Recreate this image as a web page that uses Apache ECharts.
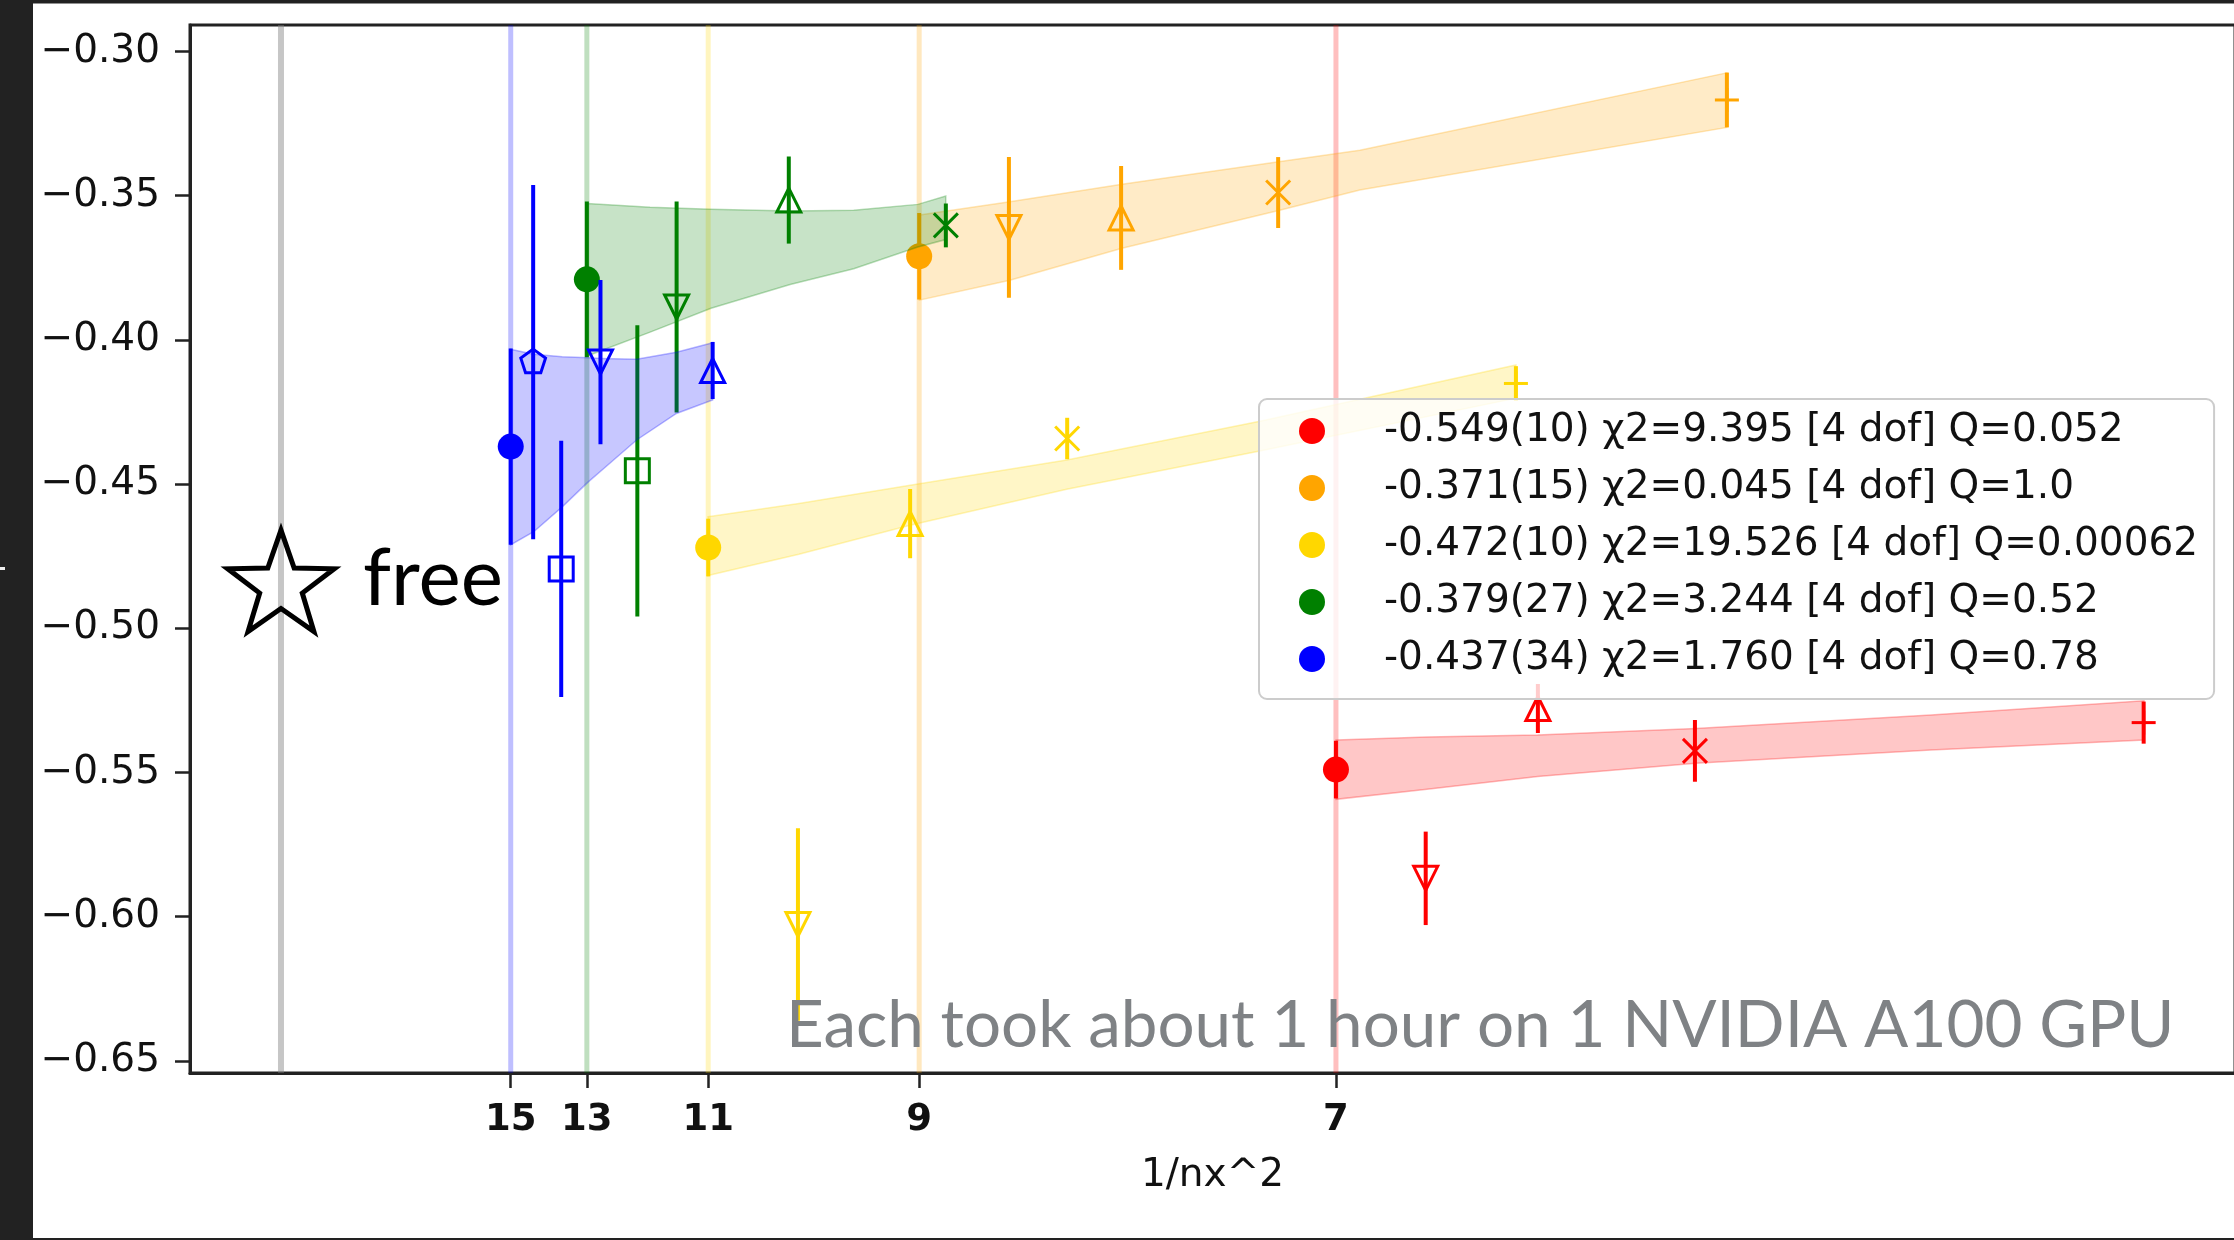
<!DOCTYPE html>
<html>
<head>
<meta charset="utf-8">
<script src="https://cdn.jsdelivr.net/npm/echarts@6/dist/echarts.min.js"></script>
<style>
  html, body { margin: 0; padding: 0; background: #fff; }
  #chart { width: 2234px; height: 1240px; }
</style>
</head>
<body>
<div id="chart"></div>
<script>
// Spatial lattice extents, one fit per nx
const nxList = [7, 9, 11, 13, 15];
const seriesColors = ['#ff0000', '#ffa500', '#ffd700', '#008000', '#0000ff'];
const seriesRgb = [[255, 0, 0], [255, 165, 0], [255, 215, 0], [0, 128, 0], [0, 0, 255]];
const fitLabels = [
  '-0.549(10) \u03c72=9.395 [4 dof] Q=0.052',
  '-0.371(15) \u03c72=0.045 [4 dof] Q=1.0',
  '-0.472(10) \u03c72=19.526 [4 dof] Q=0.00062',
  '-0.379(27) \u03c72=3.244 [4 dof] Q=0.52',
  '-0.437(34) \u03c72=1.760 [4 dof] Q=0.78'
];

// Extrapolated (nt -> infinity) values and errors
const fitValues = [-0.549, -0.371, -0.472, -0.379, -0.437];
const fitErrors = [0.010, 0.015, 0.010, 0.027, 0.034];

// Finite-nt measurements, nx = 7
const ntRed = [24, 16, 12, 8];
const valRed = [-0.5867, -0.5278, -0.5425, -0.5327];
const errRed = [0.0162, 0.0085, 0.0107, 0.0073];
// nx = 9
const ntOrange = [24, 16, 12, 8];
const valOrange = [-0.3610, -0.3577, -0.3489, -0.3168];
const errOrange = [0.0244, 0.0180, 0.0123, 0.0095];
// nx = 11
const ntYellow = [24, 16, 12, 8];
const valYellow = [-0.6027, -0.4637, -0.4342, -0.4151];
const errYellow = [0.0334, 0.0120, 0.0072, 0.0060];
// nx = 13
const ntGreen = [32, 24, 16, 12];
const valGreen = [-0.4454, -0.3886, -0.3515, -0.3603];
const errGreen = [0.0505, 0.0366, 0.0151, 0.0076];
// nx = 15
const ntBlue = [48, 32, 24, 16];
const valBlue = [-0.4077, -0.4794, -0.4077, -0.4106];
const errBlue = [0.0614, 0.0444, 0.0285, 0.0099];

// Fit error bands: sample positions with upper / lower edges
const bandXRed = [0.02041, 0.02217, 0.02431, 0.02737, 0.03192, 0.03604];
const bandHiRed = [-0.5387, -0.5377, -0.5370, -0.5347, -0.5301, -0.5251];
const bandLoRed = [-0.5593, -0.5558, -0.5514, -0.5468, -0.5422, -0.5387];

const bandXOrange = [0.01235, 0.01410, 0.01627, 0.01930, 0.02087, 0.02797];
const bandHiOrange = [-0.3567, -0.3521, -0.3460, -0.3382, -0.3342, -0.3074];
const bandLoOrange = [-0.3862, -0.3793, -0.3682, -0.3551, -0.3480, -0.3263];

const bandXYellow = [0.00826, 0.01002, 0.01217, 0.01520, 0.01896, 0.02389];
const bandHiYellow = [-0.4613, -0.4567, -0.4504, -0.4416, -0.4281, -0.4087];
const bandLoYellow = [-0.4817, -0.4743, -0.4643, -0.4518, -0.4384, -0.4202];

const bandXGreen = [0.00592, 0.00714, 0.00832, 0.00985, 0.01108, 0.01232, 0.01286];
const bandHiGreen = [-0.3527, -0.3540, -0.3547, -0.3553, -0.3550, -0.3530, -0.3501];
const bandLoGreen = [-0.4056, -0.3973, -0.3890, -0.3808, -0.3753, -0.3678, -0.3652];

const bandXBlue = [0.00444, 0.00489, 0.00544, 0.00594, 0.00620, 0.00688, 0.00765, 0.00835];
const bandHiBlue = [-0.4032, -0.4050, -0.4058, -0.4062, -0.4064, -0.4067, -0.4043, -0.4010];
const bandLoBlue = [-0.4711, -0.4665, -0.4579, -0.4493, -0.4453, -0.4347, -0.4255, -0.4208];

// Free-field reference marker at 1/nx^2 = 0
const freeValue = -0.484;

// Axis ticks
const xTickNx = [15, 13, 11, 9, 7];
const yTicks = [-0.65, -0.60, -0.55, -0.50, -0.45, -0.40, -0.35, -0.30];
const xRange = [-0.00176, 0.0378];
const yRange = [-0.6542, -0.2908];

const FONT = 'DejaVu Sans';

function rgba(c, a) { return 'rgba(' + c[0] + ',' + c[1] + ',' + c[2] + ',' + a + ')'; }

// marker glyph for each temporal extent (0 = extrapolated value)
function markerFor(nt, cx, cy, color) {
  const s = 12;
  const stroke = { stroke: color, lineWidth: 3, fill: 'none' };
  if (nt === 0) {
    return { type: 'circle', shape: { cx: cx, cy: cy, r: 13 }, style: { fill: color } };
  }
  if (nt === 48) {
    const pts = [];
    for (let i = 0; i < 5; i++) {
      const a = -Math.PI / 2 + i * 2 * Math.PI / 5;
      pts.push([cx + 13 * Math.cos(a), cy + 13 * Math.sin(a)]);
    }
    return { type: 'polygon', shape: { points: pts }, style: stroke };
  }
  if (nt === 32) {
    return { type: 'rect', shape: { x: cx - s, y: cy - s, width: 2 * s, height: 2 * s }, style: stroke };
  }
  if (nt === 24) {
    return { type: 'polygon', shape: { points: [[cx, cy + s], [cx - s, cy - s], [cx + s, cy - s]] }, style: stroke };
  }
  if (nt === 16) {
    return { type: 'polygon', shape: { points: [[cx, cy - s], [cx - s, cy + s], [cx + s, cy + s]] }, style: stroke };
  }
  if (nt === 12) {
    return { type: 'group', children: [
      { type: 'line', shape: { x1: cx - s, y1: cy - s, x2: cx + s, y2: cy + s }, style: stroke },
      { type: 'line', shape: { x1: cx - s, y1: cy + s, x2: cx + s, y2: cy - s }, style: stroke }
    ] };
  }
  return { type: 'group', children: [
    { type: 'line', shape: { x1: cx - s, y1: cy, x2: cx + s, y2: cy }, style: stroke },
    { type: 'line', shape: { x1: cx, y1: cy - s, x2: cx, y2: cy + s }, style: stroke }
  ] };
}

function bandSeries(k, xs, hi, lo) {
  const c = seriesRgb[k];
  return {
    type: 'custom',
    name: 'band nx=' + nxList[k],
    silent: true,
    data: [[xs[0], hi[0]]],
    encode: { x: 0, y: 1 },
    renderItem: function (params, api) {
      const pts = [];
      for (let i = 0; i < xs.length; i++) pts.push(api.coord([xs[i], hi[i]]));
      for (let i = xs.length - 1; i >= 0; i--) pts.push(api.coord([xs[i], lo[i]]));
      return {
        type: 'polygon',
        shape: { points: pts },
        style: { fill: rgba(c, 0.22), stroke: rgba(c, 0.28), lineWidth: 1.5 }
      };
    }
  };
}

function pointSeries(k, nts, vals, errs) {
  const nx = nxList[k];
  const color = seriesColors[k];
  const data = [[1 / (nx * nx), fitValues[k], fitErrors[k], 0]];
  for (let i = 0; i < nts.length; i++) {
    data.push([1 / (nx * nx) + 1 / (nts[i] * nts[i]), vals[i], errs[i], nts[i]]);
  }
  return {
    type: 'custom',
    name: fitLabels[k],
    silent: true,
    itemStyle: { color: color },
    data: data,
    encode: { x: 0, y: 1 },
    renderItem: function (params, api) {
      const x = api.value(0), y = api.value(1), e = api.value(2), nt = api.value(3);
      const p = api.coord([x, y]);
      const top = api.coord([x, y + e]);
      const bot = api.coord([x, y - e]);
      return {
        type: 'group',
        children: [
          { type: 'line', shape: { x1: p[0], y1: top[1], x2: p[0], y2: bot[1] }, style: { stroke: color, lineWidth: 4 } },
          markerFor(nt, p[0], p[1], color)
        ]
      };
    }
  };
}

// vertical guide lines at 1/nx^2 (and at 0 for the free case)
const vlineX = [0].concat(nxList.map(function (n) { return 1 / (n * n); }));
const vlineColors = ['rgba(128,128,128,0.45)'].concat(seriesRgb.map(function (c) { return rgba(c, 0.25); }));

const vlineSeries = {
  type: 'custom',
  name: 'guides',
  silent: true,
  data: vlineX.map(function (x, i) { return [x, yRange[0], i]; }),
  encode: { x: 0, y: 1 },
  renderItem: function (params, api) {
    const x = api.value(0);
    const i = api.value(2);
    const a = api.coord([x, yRange[1]]);
    const b = api.coord([x, yRange[0]]);
    return {
      type: 'line',
      shape: { x1: a[0], y1: a[1], x2: b[0], y2: b[1] },
      style: { stroke: vlineColors[i], lineWidth: i === 0 ? 6 : 5 }
    };
  }
};

const freeSeries = {
  type: 'custom',
  name: 'free',
  silent: true,
  data: [[0, freeValue]],
  encode: { x: 0, y: 1 },
  renderItem: function (params, api) {
    const p = api.coord([api.value(0), api.value(1)]);
    const R = 56, r = R * 0.4;
    const pts = [];
    for (let i = 0; i < 10; i++) {
      const a = -Math.PI / 2 + i * Math.PI / 5;
      const rad = i % 2 === 0 ? R : r;
      pts.push([p[0] + rad * Math.cos(a), p[1] + 4 + rad * Math.sin(a)]);
    }
    return {
      type: 'group',
      children: [
        { type: 'polygon', shape: { points: pts }, style: { fill: 'none', stroke: '#000', lineWidth: 5, lineJoin: 'miter' } },
        { type: 'text', x: p[0] + 82, y: p[1] - 3,
          style: { text: 'free', fontFamily: 'Lato', fontSize: 80, fill: '#000', align: 'left', verticalAlign: 'middle' } }
      ]
    };
  }
};

const series = [vlineSeries,
  bandSeries(0, bandXRed, bandHiRed, bandLoRed), pointSeries(0, ntRed, valRed, errRed),
  bandSeries(1, bandXOrange, bandHiOrange, bandLoOrange), pointSeries(1, ntOrange, valOrange, errOrange),
  bandSeries(2, bandXYellow, bandHiYellow, bandLoYellow), pointSeries(2, ntYellow, valYellow, errYellow),
  bandSeries(3, bandXGreen, bandHiGreen, bandLoGreen), pointSeries(3, ntGreen, valGreen, errGreen),
  bandSeries(4, bandXBlue, bandHiBlue, bandLoBlue), pointSeries(4, ntBlue, valBlue, errBlue),
  freeSeries
];

const chart = echarts.init(document.getElementById('chart'), null, { renderer: 'canvas' });
chart.setOption({
  animation: false,
  backgroundColor: '#ffffff',
  grid: {
    left: 190, right: -1, top: 25, bottom: 167,
    show: true, borderColor: '#222', borderWidth: 3, backgroundColor: 'transparent',
    containLabel: false, outerBoundsMode: 'none'
  },
  xAxis: {
    type: 'value', min: xRange[0], max: xRange[1],
    name: '1/nx^2', nameLocation: 'middle', nameGap: 83,
    nameTextStyle: { fontFamily: FONT, fontSize: 39, color: '#111' },
    axisLine: { show: true, onZero: false, lineStyle: { color: '#222', width: 3 } },
    axisTick: { show: true, length: 15, lineStyle: { color: '#222', width: 2.5 },
      customValues: xTickNx.map(function (n) { return 1 / (n * n); }) },
    axisLabel: {
      customValues: xTickNx.map(function (n) { return 1 / (n * n); }),
      formatter: function (v) { return String(Math.round(Math.sqrt(1 / v))); },
      fontFamily: FONT, fontSize: 37, fontWeight: 'bold', color: '#111', margin: 29
    },
    splitLine: { show: false }
  },
  yAxis: {
    type: 'value', min: yRange[0], max: yRange[1],
    axisLine: { show: true, onZero: false, lineStyle: { color: '#222', width: 3 } },
    axisTick: { show: true, length: 15, lineStyle: { color: '#222', width: 2.5 }, customValues: yTicks },
    axisLabel: {
      customValues: yTicks,
      formatter: function (v) { return v.toFixed(2).replace('-', '\u2212'); },
      fontFamily: FONT, fontSize: 39, color: '#111', margin: 30
    },
    splitLine: { show: false }
  },
  legend: {
    orient: 'vertical',
    left: 1259, top: 399,
    data: fitLabels.map(function (n) { return { name: n, icon: 'circle' }; }),
    selectedMode: false,
    itemWidth: 26, itemHeight: 26, itemGap: 17,
    padding: [12, 16, 20, 40],
    backgroundColor: 'rgba(255,255,255,0.8)',
    borderColor: '#cccccc', borderWidth: 2, borderRadius: 8,
    itemStyle: { borderWidth: 0 },
    textStyle: { fontFamily: FONT, fontSize: 39, color: '#111', lineHeight: 40, padding: [0, 0, 0, 54] }
  },
  graphic: [
    { type: 'rect', shape: { x: 0, y: 0, width: 33, height: 1240 }, style: { fill: '#222' }, z: 100 },
    { type: 'rect', shape: { x: 0, y: 0, width: 2234, height: 3.5 }, style: { fill: '#222' }, z: 100 },
    { type: 'rect', shape: { x: 0, y: 1238, width: 2234, height: 2 }, style: { fill: '#222' }, z: 100 },
    { type: 'rect', shape: { x: 0, y: 567, width: 5, height: 3 }, style: { fill: '#eeeeee' }, z: 101 },
    { type: 'text', x: 786, y: 1026, z: 100,
      style: { text: 'Each took about 1 hour on 1 NVIDIA A100 GPU', fontFamily: 'Lato', fontSize: 65.5,
        fill: '#7f8285', align: 'left', verticalAlign: 'middle' } }
  ],
  series: series
});
</script>
</body>
</html>
